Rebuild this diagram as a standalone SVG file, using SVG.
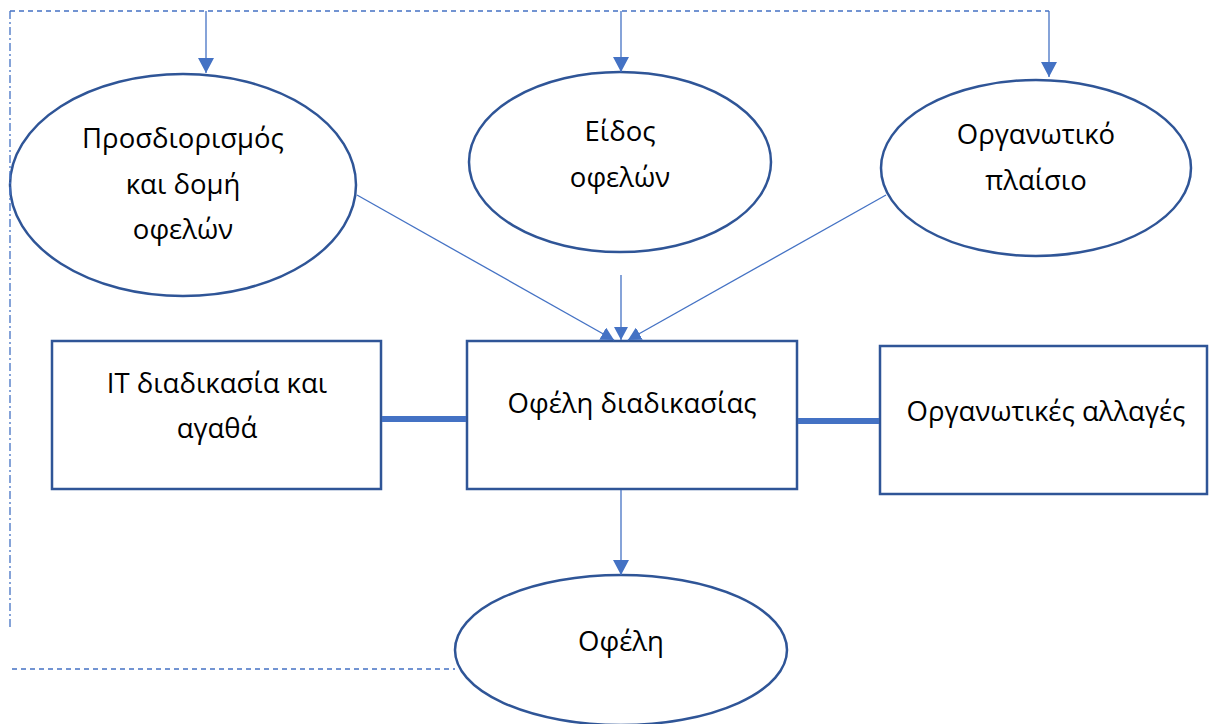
<svg xmlns="http://www.w3.org/2000/svg" width="1209" height="724" viewBox="0 0 1209 724">
<style>
.shape{fill:#fff;stroke:#2F5597;stroke-width:2.5}
.t{font-family:"Open Sans","Liberation Sans",Arial,sans-serif;font-size:27.5px;fill:#000;text-anchor:middle}
.c{stroke:#4472C4;stroke-width:1.3;fill:none}
.d{stroke:#4472C4;stroke-width:1.3;fill:none;stroke-dasharray:5,4}
.dd{stroke:#4472C4;stroke-width:1.3;fill:none;stroke-dasharray:8,3,2,3}
.thick{stroke:#4472C4;stroke-width:6;fill:none}
</style>
<defs>
<marker id="ahb" markerWidth="15" markerHeight="16" refX="15" refY="8" orient="auto" markerUnits="userSpaceOnUse" viewBox="0 0 15 16">
<path d="M0,0 L15,8 L0,16 z" fill="#4472C4"/>
</marker>
<marker id="ahs" markerWidth="13" markerHeight="14" refX="13" refY="7" orient="auto" markerUnits="userSpaceOnUse" viewBox="0 0 13 14">
<path d="M0,0 L13,7 L0,14 z" fill="#4472C4"/>
</marker>
</defs>
<g id="n1">
<ellipse class="shape" cx="183" cy="185" rx="173" ry="111"/>
<text class="t" x="183" y="148">Προσδιορισμός</text>
<text class="t" x="183" y="194">και δομή</text>
<text class="t" x="183" y="239">οφελών</text>
</g>
<g id="n2">
<ellipse class="shape" cx="620" cy="162" rx="151" ry="90"/>
<text class="t" x="620" y="141">Είδος</text>
<text class="t" x="620" y="187">οφελών</text>
</g>
<g id="n3">
<ellipse class="shape" cx="1036" cy="168" rx="155" ry="88"/>
<text class="t" x="1036" y="144">Οργανωτικό</text>
<text class="t" x="1036" y="190">πλαίσιο</text>
</g>
<g id="n4">
<rect class="shape" x="52" y="341" width="329" height="148"/>
<text class="t" x="217" y="393">IT διαδικασία και</text>
<text class="t" x="217" y="438">αγαθά</text>
</g>
<g id="n5">
<rect class="shape" x="467" y="341" width="330" height="148"/>
<text class="t" x="632" y="413">Οφέλη διαδικασίας</text>
</g>
<g id="n6">
<rect class="shape" x="880" y="346" width="327" height="148"/>
<text class="t" x="1046" y="421">Οργανωτικές αλλαγές</text>
</g>
<g id="n7">
<ellipse class="shape" cx="621" cy="650" rx="166" ry="75"/>
<text class="t" x="621" y="651">Οφέλη</text>
</g>
<g id="connectors">
<path class="d" d="M10,11 L1049,11"/>
<path class="dd" d="M10,11 L10,630"/>
<path class="d" d="M12,669 L455,669"/>
<path class="c" d="M206,11 L206,73" marker-end="url(#ahb)"/>
<path class="c" d="M621,11 L621,72" marker-end="url(#ahb)"/>
<path class="c" d="M1049,11 L1049,77" marker-end="url(#ahb)"/>
<path class="c" d="M357,195 L614,340" marker-end="url(#ahs)"/>
<path class="c" d="M621,275 L621,340" marker-end="url(#ahs)"/>
<path class="c" d="M886,195 L628,340" marker-end="url(#ahs)"/>
<path class="c" d="M621,490 L621,575" marker-end="url(#ahb)"/>
<path class="thick" d="M382,419 L466,419"/>
<path class="thick" d="M798,421 L879,421"/>
</g>
</svg>
